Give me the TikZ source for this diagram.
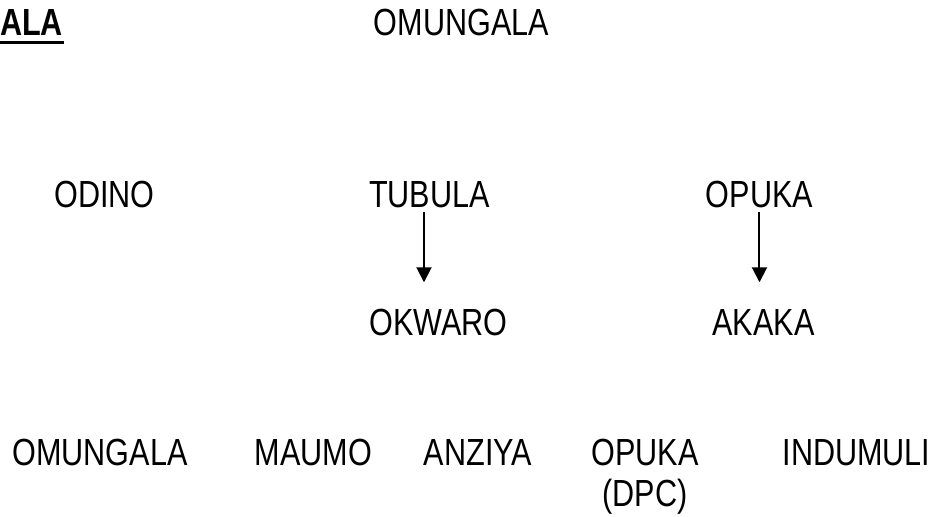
\documentclass[tikz,border=0pt]{standalone}
\usepackage{fontspec}
\setmainfont[FakeStretch=0.81]{Liberation Sans}
\usetikzlibrary{arrows.meta, positioning}
\tikzstyle{arrow} = [line width=0.02cm, -{Triangle[width=0.15cm, length=0.15cm]}, shorten <=0.03cm, shorten >=0.26cm]
\tikzstyle{person} = [
    inner sep=0pt, text height=0.27cm, text depth=0pt,
    font=\fontsize{10.75pt}{11.66pt}\selectfont
]
\tikzstyle{title} = [person, font=\fontsize{10.75pt}{11.66pt}\selectfont\bfseries]

\begin{document}
\begin{tikzpicture}[node distance=1.28cm]
\useasboundingbox (0,0) rectangle (9.37,5.17);
% Topo
\node (ALA) [title] at (0.315,4.945) {ALA};
\node (OMUNGALA_1) [person, right of=ALA, xshift=3.02cm] {OMUNGALA};

% Filhos
\node (ODINO) [person, below of=ALA, xshift=0.73cm, yshift=-0.44cm] {ODINO};
\node (TUBULA) [person, below of=OMUNGALA_1, xshift=-0.32cm, yshift=-0.44cm] {TUBULA};
\node (OPUKA_1) [person, right of=TUBULA, xshift=2.02cm] {OPUKA};
\node (OKWARO) [person, below of=TUBULA, xshift=0.09cm] {OKWARO};
\node (AKAKA) [person, below of=OPUKA_1, xshift=0.04cm] {AKAKA};

% Linha de baixo
\node (OMUNGALA_2) [person, below of=ODINO, xshift=-0.045cm, yshift=-1.295cm] {OMUNGALA};
\node (MAUMO) [person, right of=OMUNGALA_2, xshift=0.855cm] {MAUMO};
\node (ANZIYA) [person, below of=OKWARO, xshift=0.395cm, yshift=-0.015cm] {ANZIYA};
\node (OPUKA_2) [person, right of=ANZIYA, xshift=0.39cm] {\begin{tabular}[t]{@{}c@{}}OPUKA\\(DPC)\end{tabular}};
\node (INDUMULI) [person, right of=OPUKA_2, xshift=0.835cm] {INDUMULI};

% Connections
\draw [line width=0.03cm] ([yshift=-0.055cm]ALA.south west) -- ([yshift=-0.055cm]ALA.south east);
\draw [arrow] ([xshift=-0.055cm]TUBULA.south) -- ([xshift=-0.055cm]TUBULA.south |- OKWARO.north);
\draw [arrow] (OPUKA_1.south) -- (OPUKA_1.south |- AKAKA.north);

\end{tikzpicture}
\end{document}
